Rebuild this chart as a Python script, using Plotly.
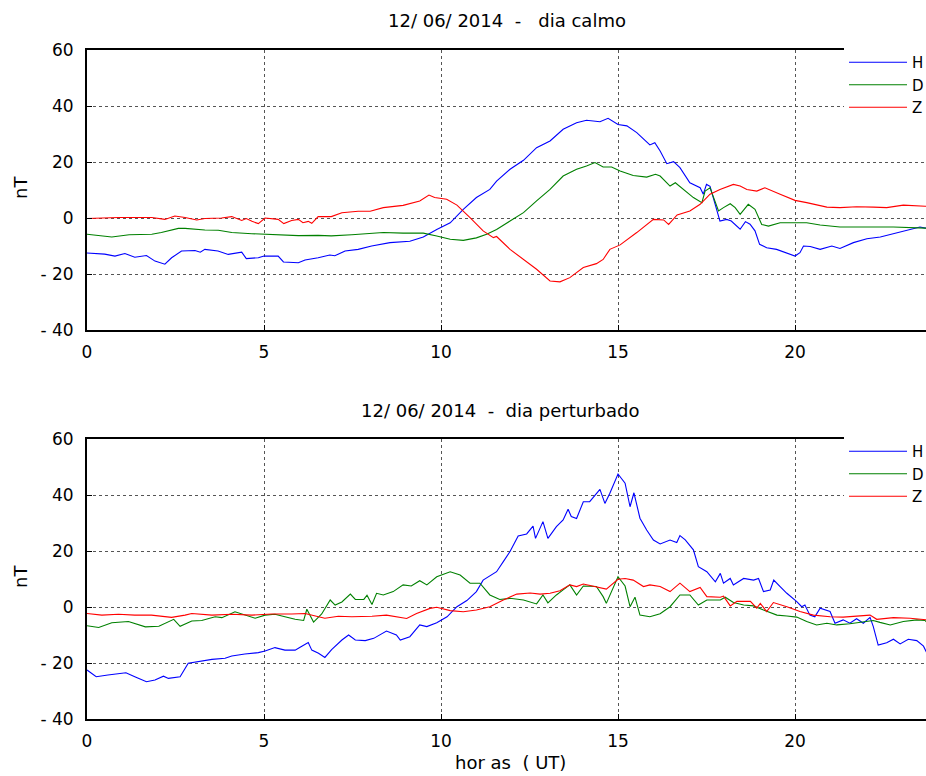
import plotly.graph_objects as go

# ---------------- data: 12/06/2014 - dia calmo ----------------
calm_H_t = [0, 0.5, 0.79, 1.07, 1.35, 1.68, 1.92, 2.2, 2.39, 2.67, 3.05, 3.2, 3.33, 3.7, 3.99, 4.37, 4.5, 4.84, 5.0, 5.4, 5.55, 5.97, 6.16, 6.53, 6.86, 7.0, 7.29, 7.66, 8.04, 8.56, 9.12, 9.5, 9.88, 10.26, 10.63, 11.0, 11.38, 11.57, 11.95, 12.33, 12.7, 13.08, 13.45, 13.83, 14.11, 14.49, 14.72, 15.0, 15.25, 15.53, 15.9, 16.04, 16.19, 16.38, 16.57, 16.75, 17.03, 17.32, 17.41, 17.5, 17.6, 17.74, 17.88, 18.07, 18.2, 18.45, 18.6, 18.73, 18.87, 19.0, 19.2, 19.48, 19.77, 20.0, 20.14, 20.24, 20.43, 20.71, 21.04, 21.27, 21.65, 22.03, 22.41, 22.78, 23.16, 23.53, 23.68, 24.0]
calm_H = [-12.5, -12.9, -13.6, -12.7, -14.0, -13.4, -15.4, -16.5, -14.2, -11.8, -11.6, -12.2, -11.2, -11.8, -13.0, -12.2, -14.5, -14.2, -13.6, -13.6, -15.7, -16.0, -15.0, -14.2, -13.2, -13.5, -11.8, -11.2, -10.0, -8.8, -8.3, -6.8, -4.1, -1.7, 3.1, 7.3, 10.2, 13.2, 17.4, 20.6, 25.1, 27.5, 31.7, 34.0, 34.9, 34.4, 35.6, 33.4, 32.9, 30.5, 26.1, 26.9, 23.9, 19.4, 20.1, 18.0, 12.6, 10.8, 8.5, 12.0, 11.3, 4.9, -1.1, -0.5, -1.1, -4.0, -1.3, -2.2, -4.6, -9.4, -10.6, -11.2, -12.7, -13.6, -12.4, -10.0, -10.2, -11.2, -10.0, -10.9, -8.8, -7.4, -6.8, -5.6, -4.4, -3.2, -3.6, -3.5]

calm_D_t = [0, 0.7, 1.19, 1.83, 2.1, 2.58, 2.77, 3.33, 3.71, 4.09, 4.66, 5.03, 5.59, 5.97, 6.53, 6.9, 7.48, 8.0, 8.37, 8.93, 9.5, 9.88, 10.26, 10.63, 11.0, 11.29, 11.57, 11.95, 12.33, 12.7, 13.08, 13.45, 13.83, 14.11, 14.35, 14.58, 14.82, 15.06, 15.43, 15.81, 16.06, 16.19, 16.47, 16.62, 16.85, 17.13, 17.37, 17.46, 17.6, 17.7, 17.84, 17.98, 18.17, 18.31, 18.45, 18.68, 18.87, 19.06, 19.25, 19.58, 20.0, 20.33, 20.71, 21.27, 22.03, 22.78, 23.68, 24.0]
calm_D = [-5.8, -6.8, -6.0, -5.8, -5.2, -3.7, -3.7, -4.3, -4.4, -5.2, -5.6, -5.8, -6.2, -6.3, -6.2, -6.4, -6.0, -5.4, -5.2, -5.4, -5.4, -6.4, -7.6, -8.0, -7.1, -5.8, -4.1, -1.1, 1.9, 6.1, 10.2, 15.0, 17.4, 18.6, 19.8, 18.2, 18.2, 16.8, 15.2, 14.6, 15.6, 15.0, 11.4, 12.6, 10.2, 7.3, 5.5, 9.6, 10.8, 7.3, 2.5, 3.7, 5.1, 3.7, 1.3, 4.9, 3.1, -2.3, -2.9, -1.7, -1.7, -1.7, -2.5, -3.2, -3.2, -3.2, -3.6, -3.6]

calm_Z_t = [0, 0.89, 1.83, 2.2, 2.48, 2.77, 3.1, 3.33, 3.8, 4.09, 4.37, 4.5, 4.66, 4.84, 5.03, 5.4, 5.56, 5.78, 5.97, 6.1, 6.25, 6.35, 6.53, 6.9, 7.2, 7.66, 8.0, 8.37, 8.93, 9.4, 9.66, 9.82, 10.16, 10.45, 10.82, 11.19, 11.48, 11.57, 11.95, 12.33, 12.7, 13.08, 13.36, 13.64, 14.02, 14.39, 14.58, 14.77, 15.06, 15.53, 15.75, 16.0, 16.29, 16.43, 16.67, 17.03, 17.32, 17.6, 17.88, 18.26, 18.45, 18.64, 18.92, 19.15, 19.58, 20.0, 20.33, 20.9, 21.27, 21.74, 22.22, 22.59, 23.06, 23.68, 24.0]
calm_Z = [-0.2, 0.2, 0.2, -0.5, 0.7, 0.2, -0.7, -0.2, 0.0, 0.5, -0.9, -0.2, -1.2, -2.0, 0.0, -0.5, -2.0, -0.9, -0.5, -1.7, -1.2, -1.9, 0.5, 0.5, 1.9, 2.4, 2.4, 3.7, 4.5, 6.1, 8.2, 7.3, 6.7, 4.6, 0.1, -4.6, -7.0, -6.6, -11.2, -14.8, -18.3, -22.5, -22.8, -21.3, -17.7, -16.3, -14.8, -11.2, -9.6, -5.2, -3.0, -0.5, -0.7, -2.3, 1.1, 2.5, 4.9, 8.5, 10.2, 12.0, 11.4, 10.2, 9.6, 10.8, 8.5, 6.3, 5.5, 3.9, 3.7, 4.0, 3.9, 3.7, 4.6, 4.2, 4.3]

# ---------------- data: 12/06/2014 - dia perturbado ----------------
pert_H_t = [0, 0.26, 0.59, 0.88, 1.1, 1.35, 1.68, 1.92, 2.16, 2.3, 2.63, 2.86, 3.15, 3.53, 3.9, 4.09, 4.46, 4.84, 5.03, 5.31, 5.59, 5.88, 6.02, 6.25, 6.35, 6.54, 6.72, 6.91, 7.2, 7.39, 7.58, 7.86, 8.1, 8.46, 8.74, 8.85, 9.12, 9.4, 9.6, 9.88, 10.17, 10.45, 10.73, 11.0, 11.19, 11.57, 11.76, 11.95, 12.18, 12.42, 12.6, 12.67, 12.88, 13.02, 13.26, 13.45, 13.59, 13.68, 13.83, 14.02, 14.2, 14.49, 14.63, 14.77, 15.0, 15.2, 15.34, 15.45, 15.62, 15.81, 16.0, 16.19, 16.47, 16.66, 16.75, 16.9, 17.13, 17.27, 17.51, 17.75, 17.89, 17.98, 18.17, 18.26, 18.55, 18.83, 18.97, 19.11, 19.3, 19.4, 19.58, 19.77, 20.05, 20.19, 20.28, 20.42, 20.56, 20.71, 20.99, 21.13, 21.36, 21.55, 21.74, 21.93, 22.12, 22.21, 22.35, 22.59, 22.78, 22.97, 23.2, 23.44, 23.63, 23.74, 24.0]
pert_H = [-22.5, -24.9, -24.3, -23.7, -23.5, -24.9, -26.7, -26.1, -24.7, -25.5, -24.9, -20.1, -19.5, -18.7, -18.3, -17.5, -16.8, -16.3, -15.7, -14.5, -15.4, -15.4, -14.4, -12.7, -15.4, -16.5, -18.0, -15.2, -11.8, -10.0, -11.8, -12.0, -11.2, -8.6, -10.0, -11.8, -10.6, -6.4, -7.0, -5.6, -3.5, 0.1, 2.3, 5.5, 9.6, 12.6, 16.2, 19.8, 25.4, 26.1, 28.9, 24.5, 30.5, 24.5, 28.7, 31.1, 34.9, 32.3, 31.6, 37.6, 37.6, 42.0, 37.0, 40.6, 47.5, 44.2, 35.8, 40.8, 31.7, 27.5, 23.9, 22.5, 23.9, 23.0, 25.5, 24.0, 20.4, 14.4, 12.6, 9.0, 12.0, 8.5, 10.2, 7.9, 10.2, 9.6, 10.2, 5.5, 6.1, 9.6, 7.3, 4.9, 1.9, 0.1, 0.7, -2.9, -3.5, -0.4, -1.6, -5.8, -4.6, -5.8, -4.2, -5.8, -3.7, -6.9, -13.6, -12.8, -11.5, -13.2, -11.5, -12.0, -14.0, -16.8, -15.5]

pert_D_t = [0, 0.33, 0.7, 1.17, 1.65, 2.03, 2.45, 2.63, 2.96, 3.24, 3.62, 3.81, 4.18, 4.46, 4.75, 5.03, 5.31, 5.59, 5.88, 6.12, 6.21, 6.4, 6.63, 6.87, 7.01, 7.2, 7.44, 7.58, 7.82, 7.91, 8.05, 8.18, 8.37, 8.65, 8.93, 9.16, 9.4, 9.6, 9.88, 10.26, 10.54, 10.82, 11.1, 11.38, 11.66, 11.95, 12.33, 12.7, 12.88, 13.02, 13.26, 13.45, 13.64, 13.83, 14.02, 14.39, 14.58, 14.67, 14.82, 15.0, 15.2, 15.34, 15.48, 15.62, 15.9, 16.19, 16.47, 16.75, 17.03, 17.27, 17.51, 17.89, 18.03, 18.26, 18.55, 18.83, 19.11, 19.49, 19.77, 20.05, 20.33, 20.61, 20.9, 21.18, 21.55, 21.93, 22.21, 22.4, 22.69, 23.06, 23.44, 23.67, 23.77, 24.0]
pert_D = [-6.7, -7.3, -5.6, -5.2, -7.1, -6.9, -4.4, -6.9, -5.0, -4.8, -3.5, -3.8, -1.7, -2.9, -4.0, -2.9, -2.6, -3.5, -4.4, -4.8, -0.8, -5.4, -2.5, 2.5, 0.7, 1.8, 4.6, 2.7, 2.7, 4.2, 0.9, 4.9, 4.3, 5.5, 7.9, 7.5, 9.4, 7.9, 10.8, 12.6, 11.4, 8.5, 8.5, 4.3, 2.7, 3.1, 2.5, 1.1, 4.3, 1.5, 4.3, 6.1, 7.9, 4.3, 7.5, 7.3, 3.7, 1.3, 5.5, 10.8, 7.5, 0.1, 3.5, -2.9, -3.5, -2.4, 0.1, 4.3, 4.3, 0.7, 2.5, 2.5, 3.5, 1.6, 0.7, 0.4, -1.1, -2.9, -3.2, -3.6, -5.2, -6.4, -5.8, -6.4, -6.0, -5.2, -4.8, -5.5, -6.4, -5.2, -4.6, -4.8, -6.1, -6.0]

pert_Z_t = [0, 0.42, 0.89, 1.35, 1.82, 2.39, 2.77, 2.96, 3.53, 4.09, 4.66, 5.22, 5.78, 6.16, 6.54, 6.72, 7.1, 7.48, 8.05, 8.46, 9.03, 9.31, 9.69, 9.88, 10.26, 10.63, 11.0, 11.38, 11.76, 12.14, 12.52, 12.8, 13.08, 13.36, 13.64, 13.83, 14.02, 14.39, 14.67, 15.0, 15.2, 15.43, 15.72, 15.9, 16.19, 16.47, 16.75, 17.03, 17.32, 17.51, 17.89, 17.98, 18.17, 18.36, 18.74, 18.92, 19.02, 19.2, 19.39, 19.77, 20.14, 20.52, 20.99, 21.36, 21.83, 22.12, 22.31, 22.78, 23.25, 23.72, 24.0]
pert_Z = [-2.3, -2.9, -2.6, -2.9, -2.9, -3.7, -2.9, -2.3, -2.9, -2.6, -2.9, -2.5, -2.5, -2.3, -3.5, -4.0, -3.3, -3.5, -3.3, -2.9, -4.1, -2.3, -0.5, -0.1, -1.3, -1.7, -1.1, 0.1, 2.5, 4.6, 5.0, 4.6, 4.9, 5.8, 7.9, 7.3, 8.2, 7.3, 6.4, 9.9, 10.2, 9.6, 7.3, 7.9, 7.3, 5.5, 8.5, 5.5, 7.0, 3.7, 3.5, 3.9, 0.4, 2.0, 2.0, -0.4, 1.3, -1.6, 1.6, 0.1, -1.6, -2.9, -3.5, -3.6, -3.1, -2.9, -4.4, -3.8, -4.0, -4.6, -4.5]

# axis ticks / labels
y_tickvals = [-40, -20, 0, 20, 40, 60]
y_ticktext = ["- 40", "- 20", "0", "20", "40", "60"]
x_tickvals = [0, 5, 10, 15, 20]
series_names = ["H", "D", "Z"]
series_colors = ["#0000ff", "#008000", "#ff0000"]
titles = ["12/ 06/ 2014  -   dia calmo", "12/ 06/ 2014  -  dia perturbado"]
x_title = "hor as  ( UT)"
y_title = "nT"

FONT = "DejaVu Sans"
fig = go.Figure()

panels = [
    [(calm_H_t, calm_H), (calm_D_t, calm_D), (calm_Z_t, calm_Z)],
    [(pert_H_t, pert_H), (pert_D_t, pert_D), (pert_Z_t, pert_Z)],
]
for p, series in enumerate(panels):
    xa = "x" if p == 0 else "x2"
    ya = "y" if p == 0 else "y2"
    for i, (t, v) in enumerate(series):
        fig.add_trace(go.Scatter(
            x=t, y=v, mode="lines", name=series_names[i],
            line=dict(color=series_colors[i], width=1.1),
            xaxis=xa, yaxis=ya,
            legend="legend" if p == 0 else "legend2",
            showlegend=True,
        ))

H, W = 776, 926
ml, mt, mr, mb = 87, 50, 0, 57
ph = H - mt - mb          # 669
pw = W - ml - mr          # 839


def px(xw):   # window x pixel -> paper x
    return (xw - 87) / pw


def py(yw):   # window y pixel -> paper y
    return (719 - yw) / ph


top_dom = [py(330), 1.0]
bot_dom = [0.0, py(439)]

axis_common = dict(
    showline=True, linecolor="black", linewidth=2,
    showgrid=True, gridcolor="#555555", griddash="dot", gridwidth=1,
    ticks="inside", ticklen=5, tickcolor="black",
    zeroline=False,
    tickfont=dict(family=FONT, size=17, color="black"),
)
xr = [0, pw / 35.4]
legend_common = dict(x=px(844), xanchor="left", yanchor="top",
                     bgcolor="white", borderwidth=0, font=dict(family=FONT, size=15),
                     itemwidth=58, tracegroupgap=0)
fig.update_layout(
    width=W, height=H,
    margin=dict(l=ml, r=mr, t=mt, b=mb, autoexpand=False),
    paper_bgcolor="white", plot_bgcolor="white",
    font=dict(family=FONT, size=17, color="black"),
    xaxis=dict(domain=[0, 1], range=xr, tickvals=x_tickvals, mirror=True,
               anchor="y", ticklabelstandoff=6, **axis_common),
    yaxis=dict(domain=top_dom, range=[-40, 60], tickvals=y_tickvals, ticktext=y_ticktext,
               anchor="x", ticklabelstandoff=8, **axis_common),
    xaxis2=dict(domain=[0, 1], range=xr, tickvals=x_tickvals, mirror=True,
                anchor="y2", ticklabelstandoff=6, **axis_common),
    yaxis2=dict(domain=bot_dom, range=[-40, 60], tickvals=y_tickvals, ticktext=y_ticktext,
                anchor="x2", ticklabelstandoff=8, **axis_common),
    legend=dict(y=1.006, **legend_common),
    legend2=dict(y=bot_dom[1] + 0.006, **legend_common),
    showlegend=True,
)

annotations = [
    dict(text=titles[0], x=px(507), y=py(21)),
    dict(text=titles[1], x=px(500), y=py(410)),
    dict(text=x_title, x=px(510), y=py(763)),
    dict(text=y_title, x=px(20), y=py(188), textangle=-90),
    dict(text=y_title, x=px(20), y=py(577), textangle=-90),
]
for a in annotations:
    a.update(xref="paper", yref="paper", showarrow=False, xanchor="center",
             yanchor="middle", font=dict(family=FONT, size=18, color="black"))
fig.update_layout(annotations=annotations)

# remove the browser's default 8px page margin so the figure fills the window
fig.write_html(
    "out.html",
    config={"displayModeBar": False},
    post_script="document.body.style.margin='0';document.body.style.overflow='hidden';",
)
